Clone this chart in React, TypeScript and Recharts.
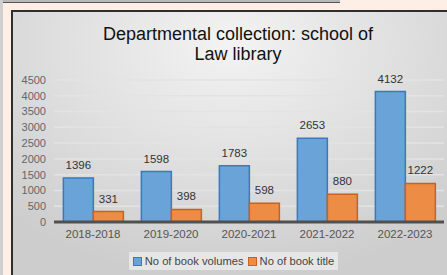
import {
  Bar,
  BarChart,
  CartesianGrid,
  LabelList,
  Legend,
  XAxis,
  YAxis,
} from "recharts";

const years = ["2018-2018", "2019-2020", "2020-2021", "2021-2022", "2022-2023"];
const bookVolumes = [1396, 1598, 1783, 2653, 4132];
const bookTitles = [331, 398, 598, 880, 1222];
const yTicks = [0, 500, 1000, 1500, 2000, 2500, 3000, 3500, 4000, 4500];

const data = years.map((year, i) => ({
  year,
  volumes: bookVolumes[i],
  titles: bookTitles[i],
}));

const font = "'Liberation Sans', Arial, sans-serif";

const LegendBox = () => (
  <div
    style={{
      display: "flex",
      justifyContent: "center",
      paddingLeft: 10,
    }}
  >
    <div
      style={{
        display: "flex",
        alignItems: "center",
        gap: 3,
        background: "#e6e6e6",
        padding: "3px 4px",
        fontFamily: font,
        fontSize: 11.2,
        color: "#444",
      }}
    >
      <span
        style={{
          width: 7,
          height: 7,
          background: "#6aa3d8",
          border: "1px solid #3a78c0",
          display: "inline-block",
        }}
      />
      <span>No of book volumes</span>
      <span
        style={{
          width: 7,
          height: 7,
          background: "#ec8c45",
          border: "1px solid #cc5f22",
          display: "inline-block",
          marginLeft: 1,
        }}
      />
      <span>No of book title</span>
    </div>
  </div>
);

const App = () => {
  return (
    <div
      style={{
        position: "absolute",
        left: 0,
        top: 0,
        width: 447,
        height: 275,
        background: "#fdeee6",
        overflow: "hidden",
      }}
    >
      <div
        style={{
          position: "absolute",
          left: 0,
          top: 0,
          width: 340,
          height: 2,
          background: "#b8b8b8",
          borderBottom: "1px solid #555",
        }}
      />
      <div
        style={{
          position: "absolute",
          left: 0,
          top: 0,
          width: 3,
          height: 275,
          background: "#cfcfcf",
        }}
      />
      <div
        style={{
          position: "absolute",
          left: 11,
          top: 10,
          width: 436,
          height: 265,
          boxSizing: "border-box",
          borderLeft: "2px solid #2e2e2e",
          borderTop: "2px solid #2e2e2e",
          background:
            "radial-gradient(ellipse 75% 90% at 50% 12%, #f3f3f3 0%, #e2e2e2 45%, #cdcdcd 100%)",
        }}
      >
        <div
          style={{
            position: "absolute",
            left: 0,
            top: 12,
            width: 450,
            textAlign: "center",
            fontFamily: font,
            fontSize: 18,
            lineHeight: "20px",
            color: "#111",
          }}
        >
          Departmental collection: school of
          <br />
          Law library
        </div>
        <BarChart
          width={434}
          height={263}
          data={data}
          margin={{ top: 68, right: 3, bottom: 0, left: 0 }}
          barGap={0}
          barCategoryGap="12%"
        >
          <CartesianGrid vertical={false} stroke="#e3e3e3" strokeWidth={1.5} />
          <XAxis
            dataKey="year"
            tickLine={false}
            tickSize={0}
            tickMargin={8}
            stroke="#505050"
            strokeWidth={3}
            height={20}
            tick={{ fill: "#555", fontSize: 11.5, fontFamily: font }}
          />
          <YAxis
            domain={[0, 4500]}
            ticks={yTicks}
            interval={0}
            width={41}
            axisLine={false}
            tickLine={false}
            tickSize={0}
            tickMargin={8}
            tick={{ fill: "#666", fontSize: 11, fontFamily: font }}
          />
          <Legend
            verticalAlign="bottom"
            height={23}
            content={() => <LegendBox />}
            wrapperStyle={{ paddingTop: 10 }}
          />
          <Bar
            dataKey="volumes"
            fill="#6aa3d8"
            stroke="#3a78c0"
            strokeWidth={1.5}
            isAnimationActive={false}
          >
            <LabelList
              dataKey="volumes"
              position="top"
              offset={9}
              fill="#333"
              fontSize={11.5}
              fontFamily={font}
            />
          </Bar>
          <Bar
            dataKey="titles"
            fill="#ec8c45"
            stroke="#cc5f22"
            strokeWidth={1.5}
            isAnimationActive={false}
          >
            <LabelList
              dataKey="titles"
              position="top"
              offset={9}
              fill="#333"
              fontSize={11.5}
              fontFamily={font}
            />
          </Bar>
        </BarChart>
      </div>
    </div>
  );
};

export default App;
